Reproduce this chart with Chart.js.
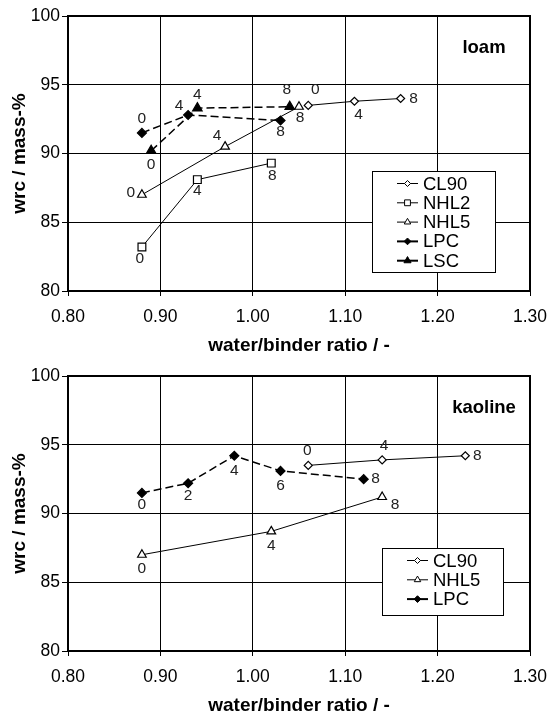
<!DOCTYPE html>
<html>
<head>
<meta charset="utf-8">
<script src="https://cdn.jsdelivr.net/npm/chart.js@4/dist/chart.umd.min.js"></script>
<style>
html, body { margin: 0; padding: 0; background: #fff; overflow: hidden; }
#wrap { position: relative; width: 549px; height: 715px; }
canvas { position: absolute; left: 0; }
#loamChart { top: 0; }
#kaolineChart { top: 360px; }
</style>
</head>
<body>
<div id="wrap">
  <canvas id="loamChart" width="549" height="357"></canvas>
  <canvas id="kaolineChart" width="549" height="357"></canvas>
</div>
<script>
// === Datos: loam ===
const loamCL90Ratio = [1.06, 1.11, 1.16];
const loamCL90Wrc   = [93.5, 93.8, 94.0];
const loamCL90Days  = ['0', '4', '8'];

const loamNHL2Ratio = [0.88, 0.94, 1.02];
const loamNHL2Wrc   = [83.2, 88.1, 89.3];
const loamNHL2Days  = ['0', '4', '8'];

const loamNHL5Ratio = [0.88, 0.97, 1.05];
const loamNHL5Wrc   = [87.0, 90.5, 93.4];
const loamNHL5Days  = ['0', '4', '8'];

const loamLPCRatio  = [0.88, 0.93, 1.03];
const loamLPCWrc    = [91.5, 92.8, 92.4];
const loamLPCDays   = ['0', '4', '8'];

const loamLSCRatio  = [0.89, 0.94, 1.04];
const loamLSCWrc    = [90.2, 93.3, 93.4];
const loamLSCDays   = ['0', '4', '8'];

// === Datos: kaoline ===
const kaoCL90Ratio = [1.06, 1.14, 1.23];
const kaoCL90Wrc   = [93.5, 93.9, 94.2];
const kaoCL90Days  = ['0', '4', '8'];

const kaoNHL5Ratio = [0.88, 1.02, 1.14];
const kaoNHL5Wrc   = [87.0, 88.7, 91.2];
const kaoNHL5Days  = ['0', '4', '8'];

const kaoLPCRatio  = [0.88, 0.93, 0.98, 1.03, 1.12];
const kaoLPCWrc    = [91.5, 92.2, 94.2, 93.1, 92.5];
const kaoLPCDays   = ['0', '2', '4', '6', '8'];

// === Ejes ===
const xRange = [0.80, 1.30];
const xStep = 0.1;
const yRange = [80, 100];
const yStep = 5;
const xTitle = 'water/binder ratio / -';
const yTitle = 'wrc / mass-%';

// === Estilos por serie ===
const styles = {
    CL90: { pointStyle: 'rectRot',  radius: 4,   fill: '#fff', dash: [],     width: 1,   legendWidth: 1 },
    NHL2: { pointStyle: 'rect',     radius: 5.5, fill: '#fff', dash: [],     width: 1,   legendWidth: 1 },
    NHL5: { pointStyle: 'triangle', radius: 5,   fill: '#fff', dash: [],     width: 1,   legendWidth: 1 },
    LPC:  { pointStyle: 'rectRot',  radius: 4.5, fill: '#000', dash: [8, 4], width: 1.5, legendWidth: 2 },
    LSC:  { pointStyle: 'triangle', radius: 5.5, fill: '#000', dash: [8, 4], width: 1.5, legendWidth: 2 }
};

// posicion de las etiquetas de dias respecto al punto [dx, dy]
const loamLabelPos = {
    CL90: [[7, -16], [4, 13], [13, 0]],
    NHL2: [[-2, 12], [0, 11], [1, 13]],
    NHL5: [[-11, -2], [-8, -11], [1, 11]],
    LPC:  [[0, -14], [-9, -9], [0, 11]],
    LSC:  [[0, 14], [0, -13], [-3, -17]]
};
const kaoLabelPos = {
    CL90: [[-1, -15], [2, -14], [12, 0]],
    NHL5: [[0, 14], [0, 14], [13, 8]],
    LPC:  [[0, 12], [0, 12], [0, 15], [0, 15], [12, 0]]
};

function drawMarker(ctx, style, x, y, r) {
    ctx.beginPath();
    if (style === 'rectRot') {
        ctx.moveTo(x - r, y); ctx.lineTo(x, y - r); ctx.lineTo(x + r, y); ctx.lineTo(x, y + r);
    } else if (style === 'rect') {
        const s = r * Math.SQRT1_2;
        ctx.rect(x - s, y - s, 2 * s, 2 * s);
    } else {
        const h = r * Math.sqrt(3) / 2;
        ctx.moveTo(x, y - r); ctx.lineTo(x + h, y + r / 2); ctx.lineTo(x - h, y + r / 2);
    }
    ctx.closePath();
    ctx.fill();
    ctx.stroke();
}

const extras = {
    id: 'extras',
    beforeDraw(chart) {
        const ctx = chart.ctx;
        ctx.save();
        ctx.fillStyle = '#fff';
        ctx.fillRect(0, 0, chart.width, chart.height);
        ctx.restore();
    },
    beforeDatasetsDraw(chart) {
        const { ctx, chartArea: a } = chart;
        ctx.save();
        ctx.strokeStyle = '#000';
        ctx.lineWidth = 2;
        ctx.strokeRect(a.left, a.top, a.right - a.left, a.bottom - a.top);
        ctx.restore();
    },
    afterDatasetsDraw(chart, args, opts) {
        const { ctx, chartArea: a } = chart;
        ctx.save();
        // etiquetas de dias
        ctx.fillStyle = '#222';
        ctx.font = '15.5px "Liberation Sans", Arial, sans-serif';
        ctx.textAlign = 'center';
        ctx.textBaseline = 'middle';
        chart.data.datasets.forEach((ds, di) => {
            const meta = chart.getDatasetMeta(di);
            const pos = opts.labelPos[ds.label];
            meta.data.forEach((pt, i) => {
                ctx.fillText(ds.ages[i], pt.x + pos[i][0], pt.y + pos[i][1]);
            });
        });

        // nombre del panel
        ctx.fillStyle = '#000';
        ctx.font = 'bold 18.5px "Liberation Sans", Arial, sans-serif';
        ctx.fillText(opts.panel, a.right - 46, a.top + 32);

        // leyenda
        const b = opts.legendBox;
        ctx.fillStyle = '#fff';
        ctx.fillRect(b.x, b.y, b.w, b.h);
        ctx.strokeStyle = '#000';
        ctx.lineWidth = 1;
        ctx.strokeRect(b.x + 0.5, b.y + 0.5, b.w, b.h);
        ctx.font = '18.5px "Liberation Sans", Arial, sans-serif';
        ctx.textAlign = 'left';
        chart.data.datasets.forEach((ds, i) => {
            const st = styles[ds.label];
            const y = b.y + 12.5 + i * 19.3;
            ctx.strokeStyle = '#000';
            ctx.lineWidth = st.legendWidth;
            ctx.beginPath();
            ctx.moveTo(b.x + 25, y);
            ctx.lineTo(b.x + 46, y);
            ctx.stroke();
            ctx.lineWidth = 1;
            ctx.fillStyle = st.fill;
            drawMarker(ctx, st.pointStyle, b.x + 35.5, y, st.radius * 0.75);
            ctx.fillStyle = '#000';
            ctx.fillText(ds.label, b.x + 51, y + 1);
        });
        ctx.restore();
    }
};

function makeSeries(name, xs, ys, days) {
    const st = styles[name];
    return {
        label: name,
        data: xs.map((x, i) => ({ x: x, y: ys[i] })),
        ages: days,
        showLine: true,
        fill: false,
        tension: 0,
        borderColor: '#000',
        borderWidth: st.width,
        borderDash: st.dash,
        pointStyle: st.pointStyle,
        pointRadius: st.radius,
        pointBackgroundColor: st.fill,
        pointBorderColor: '#000',
        pointBorderWidth: 1.2
    };
}

function makeChart(id, datasets, panel, labelPos, legendBox) {
    const tickFont = { family: '"Liberation Sans", Arial, sans-serif', size: 17.5 };
    const titleFont = { family: '"Liberation Sans", Arial, sans-serif', size: 19, weight: 'bold', lineHeight: 1.2 };
    return new Chart(document.getElementById(id), {
        type: 'scatter',
        data: { datasets: datasets },
        options: {
            responsive: false,
            animation: false,
            events: [],
            layout: { padding: { top: 16, right: 19, left: 0, bottom: 0 } },
            plugins: {
                legend: { display: false },
                tooltip: { enabled: false },
                extras: { panel: panel, labelPos: labelPos, legendBox: legendBox }
            },
            scales: {
                x: {
                    type: 'linear',
                    min: xRange[0],
                    max: xRange[1],
                    afterFit: s => { s.height = 66; s.paddingLeft = 0; s.paddingRight = 0; },
                    ticks: {
                        stepSize: xStep,
                        color: '#000',
                        font: tickFont,
                        padding: 11,
                        maxRotation: 0,
                        callback: v => Number(v).toFixed(2)
                    },
                    grid: { color: '#000', lineWidth: 1, tickLength: 5 },
                    border: { color: '#000', width: 2 },
                    title: { display: true, text: xTitle, color: '#000', font: titleFont, padding: 0 }
                },
                y: {
                    type: 'linear',
                    min: yRange[0],
                    max: yRange[1],
                    afterFit: s => { s.width = 68; s.paddingTop = 0; s.paddingBottom = 0; },
                    ticks: { stepSize: yStep, color: '#000', font: tickFont, padding: 2 },
                    grid: { color: '#000', lineWidth: 1, tickLength: 6 },
                    border: { color: '#000', width: 2 },
                    title: { display: true, text: yTitle, color: '#000', font: titleFont, padding: { top: 8, bottom: 0 } }
                }
            }
        },
        plugins: [extras]
    });
}

makeChart('loamChart', [
    makeSeries('CL90', loamCL90Ratio, loamCL90Wrc, loamCL90Days),
    makeSeries('NHL2', loamNHL2Ratio, loamNHL2Wrc, loamNHL2Days),
    makeSeries('NHL5', loamNHL5Ratio, loamNHL5Wrc, loamNHL5Days),
    makeSeries('LPC', loamLPCRatio, loamLPCWrc, loamLPCDays),
    makeSeries('LSC', loamLSCRatio, loamLSCWrc, loamLSCDays)
], 'loam', loamLabelPos, { x: 372, y: 171, w: 123, h: 101 });

makeChart('kaolineChart', [
    makeSeries('CL90', kaoCL90Ratio, kaoCL90Wrc, kaoCL90Days),
    makeSeries('NHL5', kaoNHL5Ratio, kaoNHL5Wrc, kaoNHL5Days),
    makeSeries('LPC', kaoLPCRatio, kaoLPCWrc, kaoLPCDays)
], 'kaoline', kaoLabelPos, { x: 382, y: 188, w: 121, h: 67 });
</script>
</body>
</html>
